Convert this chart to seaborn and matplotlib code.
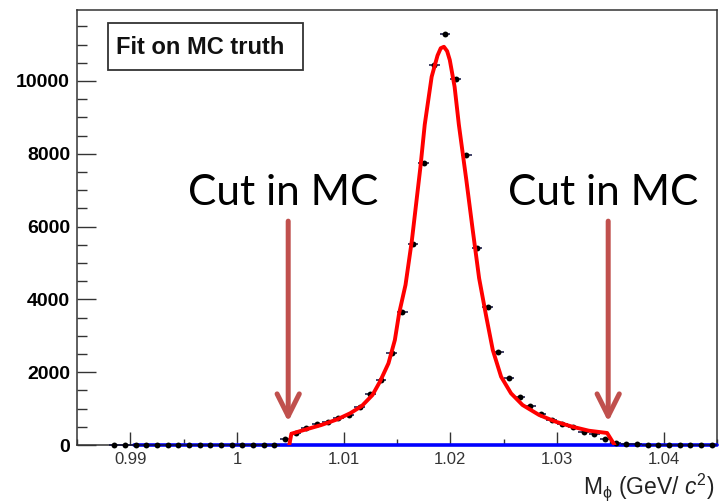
import numpy as np
import pandas as pd
import matplotlib
matplotlib.use("Agg")
import matplotlib.pyplot as plt
import seaborn as sns
from matplotlib.ticker import MultipleLocator, FuncFormatter, FixedLocator
from matplotlib.patches import Rectangle

# --- histogram of MC-truth phi mass (bin centres, 1 MeV bins) ---
bin_centers = [round(0.9885 + 0.001 * i, 4) for i in range(57)]
counts = ([0] * 16 +
          [165, 330, 460, 570, 640, 735, 825, 1050, 1400, 1785, 2535, 3660,
           5520, 7740, 10440, 11290, 10050, 7970, 5400, 3790, 2550, 1830,
           1330, 1080, 850, 690, 580, 490, 365, 295, 165, 60, 40, 25] +
          [0] * 7)

# --- fitted signal shape (sampled along the fit range) ---
fit_x = [1.0049, 1.0051, 1.0065, 1.0079, 1.0094, 1.0106, 1.0117, 1.0127,
         1.0134, 1.0142, 1.0148, 1.0152, 1.0158, 1.0164, 1.0172, 1.0176,
         1.01825, 1.0188, 1.0191, 1.0194, 1.0197, 1.01995, 1.0204, 1.0208,
         1.0215, 1.0221, 1.0227, 1.02337, 1.02398, 1.02476, 1.02569,
         1.02677, 1.02833, 1.02988, 1.03143, 1.03298, 1.0347, 1.0354]
fit_y = [0, 310, 431, 549, 705, 870, 1071, 1373, 1739, 2244, 2884, 3618,
         4400, 5631, 7645, 8800, 10117, 10700, 10900, 10940, 10820, 10576,
         9843, 8800, 7280, 5906, 4579, 3524, 2610, 1876, 1420, 1099, 824,
         640, 503, 393, 330, 0]

# --- background component (flat zero) ---
bkg_x = [0.9903, 1.045]
bkg_y = [0, 0]

cuts = [1.005, 1.035]
cut_label = "Cut in MC"
box_label = "Fit on MC truth"
x_ticks = [0.99, 1.00, 1.01, 1.02, 1.03, 1.04]
y_ticks = [0, 2000, 4000, 6000, 8000, 10000]

sns.set_style("ticks")
plt.rcParams["font.family"] = ["Liberation Sans", "DejaVu Sans"]
plt.rcParams["mathtext.fontset"] = "custom"
plt.rcParams["mathtext.rm"] = "Liberation Sans"
plt.rcParams["mathtext.it"] = "Liberation Sans:italic"
plt.rcParams["mathtext.bf"] = "Liberation Sans:bold"

fig = plt.figure(figsize=(7.19, 5.03), dpi=100)
ax = fig.add_axes([0.1071, 0.1153, 0.8901, 0.8648])

hist = pd.DataFrame({"mass": bin_centers, "entries": counts})
fit = pd.DataFrame({"mass": fit_x, "pdf": fit_y})
bkg = pd.DataFrame({"mass": bkg_x, "pdf": bkg_y})

# data points with bin-width bars
ax.errorbar(hist["mass"], hist["entries"], xerr=0.0005, fmt="none",
            ecolor="#101040", elinewidth=1.1, zorder=4, clip_on=False)
sns.scatterplot(data=hist, x="mass", y="entries", ax=ax, color="black",
                s=18, linewidth=0, zorder=4, clip_on=False, legend=False)

# background and signal fit curves
sns.lineplot(data=bkg, x="mass", y="pdf", ax=ax, color="#0000ff",
             linewidth=2.6, zorder=3, clip_on=False)
sns.lineplot(data=fit, x="mass", y="pdf", ax=ax, color="#ff0000",
             linewidth=2.8, zorder=5, sort=False, estimator=None)
ax.lines[-1].set_solid_joinstyle("round")

ax.set_xlim(0.985, 1.045)
ax.set_ylim(0, 11950)

# cut markers
for c in cuts:
    ax.annotate("", xy=(c - 0.0002, 640), xytext=(c - 0.0002, 6150),
                arrowprops=dict(arrowstyle="->,head_length=1.6,head_width=0.8",
                                lw=3.6, color="#C0504D", mutation_scale=10,
                                shrinkA=0, shrinkB=0),
                zorder=6)
    ax.text(c - 0.0007, 6600, cut_label, ha="center", va="baseline",
            fontsize=30.5, family=["Lato", "DejaVu Sans"], color="black",
            zorder=7)

# title box
ax.add_patch(Rectangle((0.0484, 0.862), 0.3046, 0.108, transform=ax.transAxes,
                       fill=False, edgecolor="#333333", linewidth=1.3,
                       zorder=6))
ax.text(0.061, 0.899, box_label, transform=ax.transAxes, ha="left",
        va="baseline", fontsize=17, fontweight="bold", color="#111111",
        zorder=7)

# axes styling
for s in ax.spines.values():
    s.set_color("#333333")
    s.set_linewidth(1.1)

ax.xaxis.set_major_locator(FixedLocator(x_ticks))
ax.xaxis.set_minor_locator(MultipleLocator(0.005))
ax.yaxis.set_major_locator(FixedLocator(y_ticks))
ax.yaxis.set_minor_locator(MultipleLocator(500))
ax.xaxis.set_major_formatter(FuncFormatter(lambda v, p: f"{v:g}"))
ax.yaxis.set_major_formatter(FuncFormatter(lambda v, p: f"{v:.0f}"))

ax.tick_params(axis="both", which="both", direction="in", color="#333333",
               width=1.0, top=False, right=False)
ax.tick_params(axis="y", which="major", length=13.7, pad=5, labelsize=14,
               labelcolor="black")
ax.tick_params(axis="y", which="minor", length=7)
ax.tick_params(axis="x", which="major", length=9.5, pad=5, labelsize=12,
               labelcolor="#333333")
ax.tick_params(axis="x", which="minor", length=4.5)
for lab in ax.get_yticklabels():
    lab.set_fontweight("bold")

ax.set_xlabel("")
ax.set_ylabel("")
fig.text(715 / 719, 1 - 494 / 503, r"M$_{\mathrm{\phi}}$ (GeV/ $c^{2}$)",
         ha="right", va="baseline", fontsize=16.5, color="#222222")

fig.savefig("out.png", dpi=100)
